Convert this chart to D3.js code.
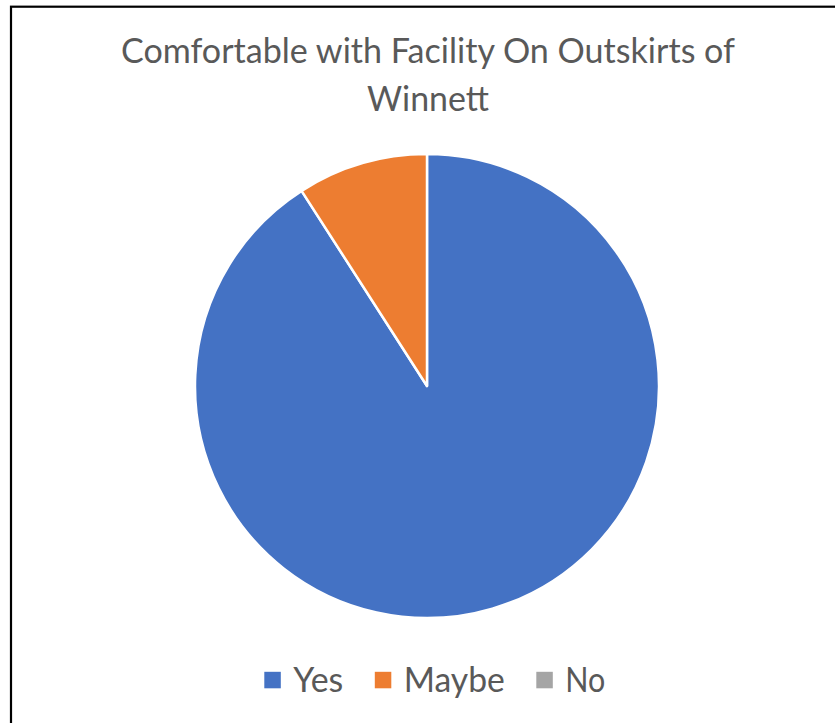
<!DOCTYPE html>
<html>
<head>
<meta charset="utf-8">
<script src="https://cdn.jsdelivr.net/npm/d3@7"></script>
<style>
html,body{margin:0;padding:0;background:#fff;overflow:hidden;}
svg{display:block;}
</style>
</head>
<body>
<svg id="chart" width="835" height="723"></svg>
<script>
const categories = ["Yes", "Maybe", "No"];
const values = [10, 1, 0];
const colors = ["#4472C4", "#ED7D31", "#A5A5A5"];
const titleLines = ["Comfortable with Facility On Outskirts of", "Winnett"];

const svg = d3.select("#chart");
const W = 835, H = 723;
const FONT = "Lato, 'Open Sans', sans-serif";
const TEXT_SIZE = 34.5;

// frame
svg.append("rect").attr("x", 11).attr("y", 6.7).attr("width", W + 20).attr("height", H + 20)
  .attr("fill", "#fff").attr("stroke", "#000").attr("stroke-width", 2.2);

// title
const titleWidths = [614, 122];
const titleBase = [63.3, 110.5];
svg.append("g").selectAll("text").data(titleLines).join("text")
  .text(d => d)
  .attr("x", 428).attr("y", (d, i) => titleBase[i]).attr("text-anchor", "middle")
  .attr("font-family", FONT).attr("fill", "#595959").attr("font-size", TEXT_SIZE)
  .attr("textLength", (d, i) => titleWidths[i]).attr("lengthAdjust", "spacingAndGlyphs");

// pie
const cx = 427, cy = 386, r = 232;
const pie = d3.pie().sort(null).value(d => d.value);
const arc = d3.arc().innerRadius(0).outerRadius(r);
const data = categories.map((c, i) => ({ name: c, value: values[i], color: colors[i] }));
svg.append("g").attr("transform", `translate(${cx},${cy})`)
  .selectAll("path").data(pie(data)).join("path")
  .attr("d", arc).attr("fill", d => d.data.color)
  .attr("stroke", "#fff").attr("stroke-width", d => d.data.value > 0 ? 2.5 : 0)
  .attr("stroke-linejoin", "round");

// legend
const legend = svg.append("g");
const legWidths = [50, 101, 40];
const sq = 16.5, gapSqText = 12.5, gapItem = 31.5;
let x = 264.3;
const baseY = 691.7;
data.forEach((d, i) => {
  legend.append("rect").attr("x", x).attr("y", 671.8).attr("width", sq).attr("height", sq).attr("fill", d.color);
  legend.append("text").text(d.name).attr("x", x + sq + gapSqText).attr("y", baseY)
    .attr("font-family", FONT).attr("font-size", TEXT_SIZE).attr("fill", "#595959")
    .attr("textLength", legWidths[i]).attr("lengthAdjust", "spacingAndGlyphs");
  x = x + sq + gapSqText + legWidths[i] + gapItem;
});
</script>
</body>
</html>
